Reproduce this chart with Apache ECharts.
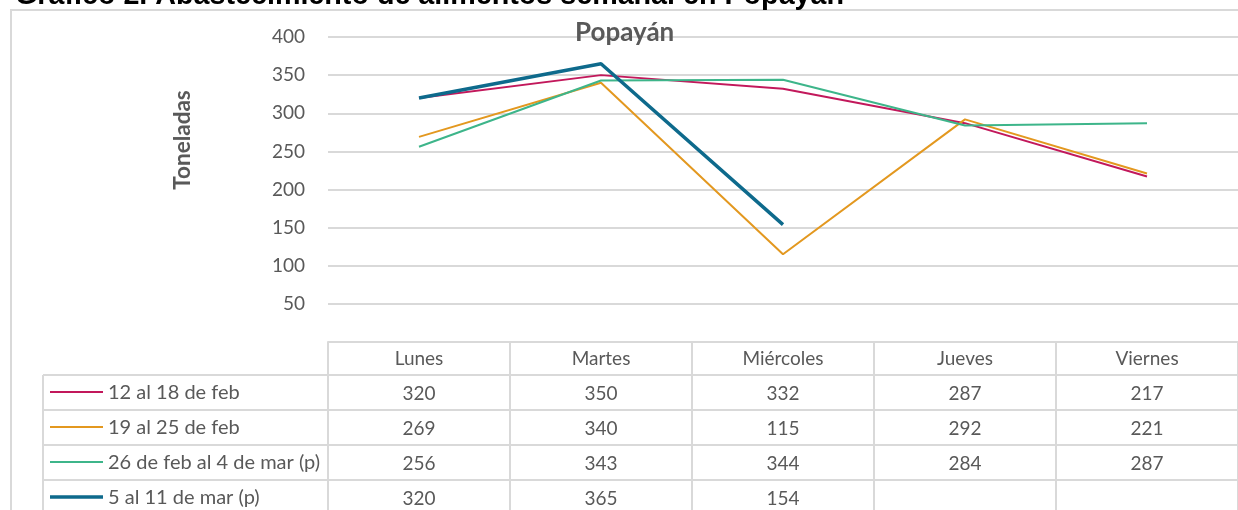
<!DOCTYPE html>
<html><head><meta charset="utf-8">
<script src="https://cdn.jsdelivr.net/npm/echarts@6/dist/echarts.min.js"></script>
<style>html,body{margin:0;padding:0;background:#fff}#c{width:1238px;height:510px}</style>
</head><body><div id="c"></div>
<script>
const categories = ['Lunes', 'Martes', 'Miércoles', 'Jueves', 'Viernes'];
const seriesNames = ['12 al 18 de feb', '19 al 25 de feb', '26 de feb al 4 de mar (p)', '5 al 11 de mar (p)'];
const feb12 = [320, 350, 332, 287, 217];
const feb19 = [269, 340, 115, 292, 221];
const feb26 = [256, 343, 344, 284, 287];
const mar05 = [320, 365, 154, null, null];
const yMin = 0, yMax = 400, yStep = 50;
const docTitle = 'Gráfico 2. Abastecimiento de alimentos semanal en Popayán';
const chartTitle = 'Popayán';
const yName = 'Toneladas';

const allValues = [feb12, feb19, feb26, mar05];
const colors = ['#C2185B', '#E3981F', '#3DB58A', '#0E6A8C'];
const widths = [2, 2, 2, 3.5];
const FONT = 'Lato';
const GRAY = '#595959';
const LINE = '#d9d9d9';

const chart = echarts.init(document.getElementById('c'), null, {renderer: 'canvas'});
const option = {
  animation: false,
  backgroundColor: '#fff',
  title: {
    text: chartTitle, left: 570, top: 15,
    textStyle: {fontFamily: FONT, fontSize: 26, fontWeight: 'bold', color: GRAY}
  },
  grid: {left: 328, width: 917.5, top: 37, height: 305, containLabel: false},
  xAxis: {
    type: 'category', data: categories, boundaryGap: true,
    axisLine: {show: true, lineStyle: {color: LINE, width: 2}},
    axisTick: {show: true, length: 33, lineStyle: {color: LINE, width: 2}},
    axisLabel: {fontFamily: FONT, fontSize: 19, color: GRAY, margin: 16.5, verticalAlign: 'middle'},
    splitLine: {show: false}
  },
  yAxis: {
    type: 'value', min: yMin, max: yMax, interval: yStep,
    axisLine: {show: false}, axisTick: {show: false},
    axisLabel: {fontFamily: FONT, fontSize: 19, color: GRAY, margin: 23,
      formatter: v => v === 0 ? '' : String(v)},
    splitLine: {show: true, lineStyle: {color: LINE, width: 2}}
  },
  series: allValues.map((vals, i) => ({
    name: seriesNames[i], type: 'line', data: vals, symbol: 'none', showSymbol: false,
    connectNulls: false, z: 3 + i,
    lineStyle: {color: colors[i], width: widths[i]},
    itemStyle: {color: colors[i]}
  }))
};
chart.setOption(option);

// Build the data table (with legend keys) from the axis scale
const cx = categories.map((_, i) => chart.convertToPixel({xAxisIndex: 0}, i));
const half = (cx[1] - cx[0]) / 2;
const yZero = chart.convertToPixel({yAxisIndex: 0}, 0);
const headerH = 33, rowH = 35, tableLeft = 43;
const rowsTop = yZero + headerH;
const rightEdge = cx[cx.length - 1] + half;
const g = [];
// outer frame
g.push({type: 'rect', shape: {x: 11, y: 10, width: 1400, height: 700}, z: 0,
  style: {fill: 'none', stroke: LINE, lineWidth: 2}});
// document title (cut off at top)
g.push({type: 'text', x: 15, y: 11, z: 10,
  style: {text: docTitle, fontFamily: 'Liberation Sans', fontSize: 28.7, fontWeight: 'bold',
    fill: '#000', textAlign: 'left', textVerticalAlign: 'bottom'}});
// y axis name
g.push({type: 'text', x: 183, y: 140, rotation: Math.PI / 2, z: 10,
  style: {text: yName, fontFamily: FONT, fontSize: 22.5, fontWeight: 'bold', fill: GRAY,
    textAlign: 'center', textVerticalAlign: 'middle'}});
// horizontal row lines
for (let r = 0; r <= seriesNames.length; r++) {
  const y = rowsTop + r * rowH;
  g.push({type: 'line', shape: {x1: tableLeft, y1: y, x2: rightEdge, y2: y}, z: 1,
    style: {stroke: LINE, lineWidth: 2}});
}
// vertical lines in data rows
const vx = [tableLeft].concat(cx.map(c => c - half), [rightEdge]);
vx.forEach(x => g.push({type: 'line', shape: {x1: x, y1: rowsTop, x2: x, y2: rowsTop + seriesNames.length * rowH}, z: 1,
  style: {stroke: LINE, lineWidth: 2}}));
// legend keys and names
seriesNames.forEach((name, r) => {
  const yc = rowsTop + r * rowH + rowH / 2;
  g.push({type: 'line', shape: {x1: 50, y1: yc - 0.5, x2: 103, y2: yc - 0.5}, z: 10,
    style: {stroke: colors[r], lineWidth: widths[r]}});
  g.push({type: 'text', x: 108, y: yc, z: 10,
    style: {text: name, fontFamily: FONT, fontSize: 20, fill: GRAY,
      textAlign: 'left', textVerticalAlign: 'middle'}});
});
// cell values
allValues.forEach((vals, r) => {
  const yc = rowsTop + r * rowH + rowH / 2 + 1;
  vals.forEach((v, i) => {
    if (v === null || v === undefined) return;
    g.push({type: 'text', x: cx[i], y: yc, z: 10,
      style: {text: String(v), fontFamily: FONT, fontSize: 19, fill: GRAY,
        textAlign: 'center', textVerticalAlign: 'middle'}});
  });
});
chart.setOption({graphic: g});
</script></body></html>
